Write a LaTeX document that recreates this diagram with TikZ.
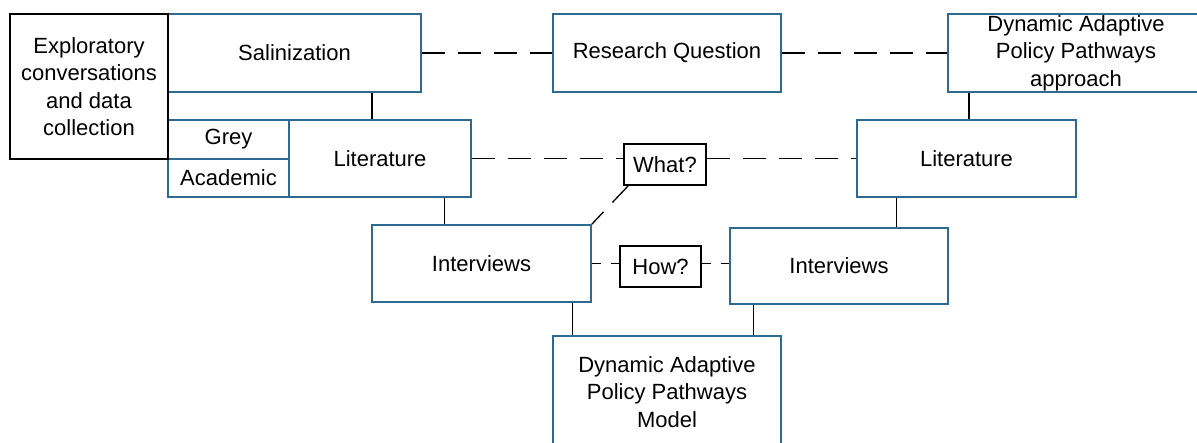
\documentclass[tikz,border=0pt]{standalone}
\usepackage{fontspec}
\setmainfont{Liberation Sans}
\usepackage{tikz}
\usetikzlibrary{calc,positioning}
\definecolor{boxblue}{RGB}{46,106,145}
\tikzset{
    % blue framed boxes of the method scheme
    stage/.style={
        draw=boxblue,
        line width=0.8pt,
        rectangle,
        inner sep=0pt,
        align=center,
        font=\fontsize{11}{13.7}\selectfont
    },
    % small black question tags
    tag/.style={
        stage,
        draw=black
    },
    tie/.style={black, line width=0.65pt},
    dashlink/.style={black, line width=0.65pt, dash pattern=on 11.5pt off 6.5pt},
    shortlink/.style={dashlink, dash pattern=on 4.5pt off 5pt}
}

\begin{document}
\begin{tikzpicture}[x=0.5pt,y=-0.5pt]
    \clip (0,0) rectangle (1197,443);
    % left column
    \node[stage, minimum width=126.5pt, minimum height=39pt] (sal) at (294.5,53) {Salinization};
    \node[stage, minimum width=60.5pt, minimum height=19.5pt] (grey) at (228.5,139.5) {Grey};
    \node[stage, minimum width=60.5pt, minimum height=19pt] (acad) at (228.5,178) {Academic};
    \node[stage, minimum width=91pt, minimum height=38.5pt] (litL) at (380,158.5) {Literature};
    \node[stage, minimum width=109.5pt, minimum height=38.5pt] (intL) at (481.5,263.5) {Interviews};
    \node[tag, minimum width=79pt, minimum height=72.5pt] (expl) at (89,86.5)
        {Exploratory\\conversations\\and data\\collection};
    % middle
    \node[stage, minimum width=114pt, minimum height=39pt] (rq) at (667,53) {Research Question};
    \node[tag, minimum width=41pt, minimum height=20.5pt] (what) at (665,164.5) {What?};
    \node[tag, minimum width=40.5pt, minimum height=20.5pt] (how) at (660.5,266.5) {How?};
    \node[stage, minimum width=114pt, minimum height=56pt] (model) at (667,392)
        {Dynamic Adaptive\\Policy Pathways\\Model};
    % right column
    \node[stage, minimum width=128pt, minimum height=39pt] (dapp) at (1076,53)
        {Dynamic Adaptive\\Policy Pathways\\approach};
    \node[stage, minimum width=109.5pt, minimum height=38.5pt] (litR) at (966.5,158.5) {Literature};
    \node[stage, minimum width=109pt, minimum height=38pt] (intR) at (839,266) {Interviews};

    % dashed links
    \draw[dashlink] (sal.east) -- (rq.west);
    \draw[dashlink] (rq.east) -- (dapp.west);
    \draw[dashlink] (litL.east) -- (litL.east -| what.west);
    \draw[dashlink] (litL.east -| what.east) -- (litR.west);
    \draw[dashlink] (what.south west) ++(5,0) coordinate (w1) (w1) -- (intL.north east);
    \draw[shortlink] (intL.east) -- (intL.east -| how.west);
    \draw[shortlink] (intL.east -| how.east) -- (intL.east -| intR.west);

    % solid ties
    \coordinate (t1) at ($(litL.north west)!0.456!(litL.north east)$);
    \draw[tie] (t1) -- (t1 |- sal.south);
    \coordinate (t2) at ($(litR.north west)!0.511!(litR.north east)$);
    \draw[tie] (t2) -- (t2 |- dapp.south);
    \coordinate (t3) at ($(intL.north west)!0.333!(intL.north east)$);
    \draw[tie] (t3) -- (t3 |- litL.south);
    \coordinate (t4) at ($(intR.north west)!0.761!(intR.north east)$);
    \draw[tie] (t4) -- (t4 |- litR.south);
    \coordinate (t5) at ($(model.north west)!0.088!(model.north east)$);
    \draw[tie] (t5) -- (t5 |- intL.south);
    \coordinate (t6) at ($(model.north west)!0.877!(model.north east)$);
    \draw[tie] (t6) -- (t6 |- intR.south);
\end{tikzpicture}
\end{document}
